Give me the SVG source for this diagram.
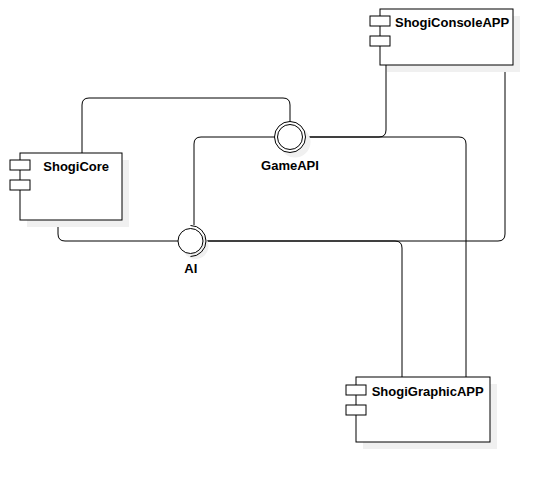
<svg xmlns="http://www.w3.org/2000/svg" width="553" height="482" viewBox="0 0 553 482">
<style>
.box{fill:#fff;stroke:#000;stroke-width:1}
.jet{fill:#fff;stroke:#000;stroke-width:1}
.sh{fill:#f0f0f0;stroke:none}
.lbl{font-family:"Liberation Sans",Arial,sans-serif;font-weight:bold;font-size:13px;fill:#000}
.conn{fill:none;stroke:#000;stroke-width:1}
.ifc{fill:#fff;stroke:#000;stroke-width:1}
</style>
<rect width="553" height="482" fill="#fff"/>
<g id="connectors">
<path class="conn" d="M 82 153 L 82 105 Q 82 98 89 98 L 283 98 Q 290 98 290 105 L 290 122"/>
<path class="conn" d="M 58 220 L 58 234 Q 58 241 65 241 L 178 241"/>
<path class="conn" d="M 275 137 L 201 137 Q 194 137 194 144 L 194 225"/>
<path class="conn" d="M 305 137 L 379 137 Q 386 137 386 130 L 386 65"/>
<path class="conn" d="M 305 137 L 459 137 Q 466 137 466 144 L 466 377"/>
<path class="conn" d="M 206 241 L 395 241 Q 402 241 402 248 L 402 377"/>
<path class="conn" d="M 206 241 L 498 241 Q 505 241 505 234 L 505 65"/>
</g>
<g id="ShogiCore">
<rect class="sh" x="27" y="160" width="102" height="67"/>
<rect class="box" x="20" y="153" width="102" height="67"/>
<rect class="jet" x="10" y="160" width="20" height="10"/>
<rect class="jet" x="10" y="180" width="20" height="10"/>
<text class="lbl" x="43.3" y="171">ShogiCore</text>
</g>
<g id="ShogiConsoleAPP">
<rect class="sh" x="387" y="16" width="133" height="56"/>
<rect class="box" x="380" y="9" width="133" height="56"/>
<rect class="jet" x="370" y="16" width="20" height="10"/>
<rect class="jet" x="370" y="36" width="20" height="10"/>
<text class="lbl" x="395" y="27">ShogiConsoleAPP</text>
</g>
<g id="ShogiGraphicAPP">
<rect class="sh" x="363" y="384" width="134" height="65"/>
<rect class="box" x="356" y="377" width="134" height="65"/>
<rect class="jet" x="346" y="385" width="20" height="10"/>
<rect class="jet" x="346" y="405" width="20" height="10"/>
<text class="lbl" x="371.7" y="396">ShogiGraphicAPP</text>
</g>
<g id="GameAPI">
<circle class="sh" cx="295" cy="142" r="15.5"/>
<circle class="ifc" cx="290" cy="137" r="15.5"/>
<circle class="ifc" cx="290" cy="137" r="12.5"/>
<text class="lbl" x="290" y="169.5" text-anchor="middle">GameAPI</text>
</g>
<g id="AI">
<circle class="sh" cx="195.5" cy="246" r="13"/>
<circle class="ifc" cx="190.5" cy="241" r="12.5"/>
<path class="conn" d="M 190.5 225.5 A 15.5 15.5 0 0 1 190.5 256.5"/>
<text class="lbl" x="190.8" y="273" text-anchor="middle">AI</text>
</g>
</svg>
